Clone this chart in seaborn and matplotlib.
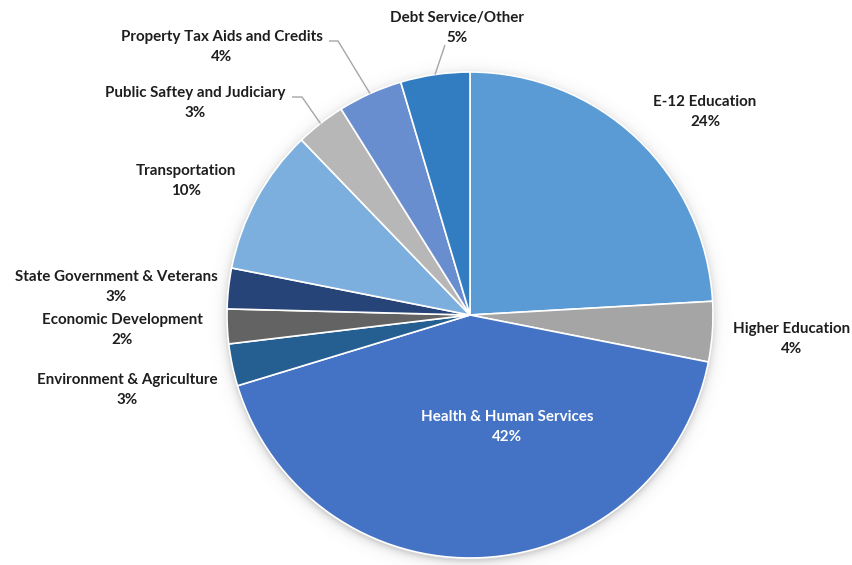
import numpy as np
import matplotlib
matplotlib.use("Agg")
import matplotlib.pyplot as plt
import seaborn as sns

# Budget shares by area (percent of total), clockwise from 12 o'clock
categories = [
    "E-12 Education",
    "Higher Education",
    "Health & Human Services",
    "Environment & Agriculture",
    "Economic Development",
    "State Government & Veterans",
    "Transportation",
    "Public Saftey and Judiciary",
    "Property Tax Aids and Credits",
    "Debt Service/Other",
]
shares = [24.1, 4.0, 42.2, 2.8, 2.3, 2.7, 9.7, 3.3, 4.3, 4.6]
colors = ["#5B9BD5", "#A5A5A5", "#4472C4", "#255E91", "#636363",
          "#264478", "#7CAFDD", "#B7B7B7", "#698ED0", "#327DC2"]

sns.set_style("white")
plt.rcParams["font.family"] = ["Lato", "DejaVu Sans"]

W, H = 852, 565
CX, CY, R = 470, 315, 243  # pie centre and radius in pixels

fig = plt.figure(figsize=(W / 100, H / 100), dpi=100)
ax = fig.add_axes([0, 0, 1, 1])
ax.set_xlim(-CX / R, (W - CX) / R)
ax.set_ylim((CY - H) / R, CY / R)
ax.axis("off")


def px(x, y):
    """Pixel position (from top-left) to data coordinates."""
    return (x - CX) / R, (CY - y) / R


# soft drop shadow round the pie
xs = np.linspace(-CX / R, (W - CX) / R, W)
ys = np.linspace(CY / R, (CY - H) / R, H)
gx, gy = np.meshgrid(xs, ys)
d = np.hypot(gx, gy + 0.012)
alpha = np.where(d > 0.97, 0.30 * np.exp(-np.clip(d - 1.0, 0, None) / 0.018), 0.30)
shadow = np.zeros((H, W, 4))
shadow[..., :3] = 0.45
shadow[..., 3] = alpha
ax.imshow(shadow, extent=(xs[0], xs[-1], ys[-1], ys[0]), zorder=0, interpolation="bilinear")

wedges, _ = ax.pie(
    shares, colors=colors, startangle=90, counterclock=False, radius=1.0,
    wedgeprops=dict(edgecolor="white", linewidth=1.2), frame=False,
)
for w in wedges:
    w.set_zorder(2)
ax.set_xlim(-CX / R, (W - CX) / R)
ax.set_ylim((CY - H) / R, CY / R)
ax.set_aspect("auto")

# label centres (pixels)
label_pos = {
    "E-12 Education": (705, 112),
    "Higher Education": (792, 339),
    "Health & Human Services": (507, 427),
    "Environment & Agriculture": (127, 390),
    "Economic Development": (122, 330),
    "State Government & Veterans": (116, 287),
    "Transportation": (186, 181),
    "Public Saftey and Judiciary": (195, 103),
    "Property Tax Aids and Credits": (222, 47),
    "Debt Service/Other": (457, 28),
}

dark = "#1e1e1e"
for name, val in zip(categories, shares):
    x, y = px(*label_pos[name])
    col = "white" if name == "Health & Human Services" else dark
    ax.text(x, y, f"{name}\n{val:.0f}%", ha="center", va="center",
            multialignment="center", fontsize=10.9, fontweight="bold",
            color=col, linespacing=1.5, zorder=5)

# leader lines from the slice edge to the outside labels
cum = np.cumsum([0] + shares)
def edge_point(i):
    mid = (cum[i] + cum[i + 1]) / 2 / 100 * 360
    a = np.deg2rad(90 - mid)
    return np.cos(a), np.sin(a)

leaders = {
    "Debt Service/Other": [(445, 45)],
    "Property Tax Aids and Credits": [(338, 41), (329, 41)],
    "Public Saftey and Judiciary": [(302, 97), (292, 97)],
}
for name, pts in leaders.items():
    i = categories.index(name)
    ex, ey = edge_point(i)
    lx = [ex] + [px(*p)[0] for p in pts]
    ly = [ey] + [px(*p)[1] for p in pts]
    ax.plot(lx, ly, color="#A6A6A6", lw=1.0, zorder=3, solid_capstyle="butt")

fig.savefig("out.png", dpi=100, facecolor="white")
